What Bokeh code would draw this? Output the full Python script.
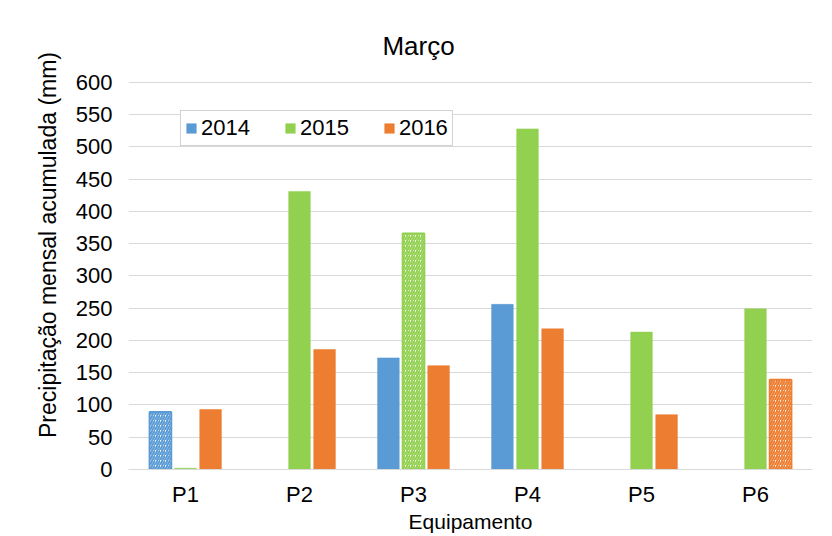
from bokeh.plotting import figure
from bokeh.models import ColumnDataSource, Legend, LegendItem, Label, FactorRange
from bokeh.transform import dodge
from bokeh.embed import file_html
from bokeh.resources import INLINE

categories = ["P1", "P2", "P3", "P4", "P5", "P6"]
years = ["2014", "2015", "2016"]
v2014 = [89, None, 173, 256, None, None]
v2015 = [2, 431, 366, 528, 213, 249]
v2016 = [93, 186, 161, 218, 85, 139]
h2014 = [True, False, False, False, False, False]
h2015 = [False, False, True, False, False, False]
h2016 = [False, False, False, False, False, True]
y_ticks = list(range(0, 601, 50))

colors = {"2014": "#5B9BD5", "2015": "#92D050", "2016": "#ED7D31"}
offsets = {"2014": -0.22, "2015": 0.0, "2016": 0.22}
series = {"2014": (v2014, h2014), "2015": (v2015, h2015), "2016": (v2016, h2016)}

FONT = "Liberation Sans"

# frame spans image y 20..469; the 600 gridline lands at y~82 (extra headroom holds the title)
p = figure(x_range=FactorRange(*categories), y_range=(0, 696),
           width=832, height=536, output_backend="svg", toolbar_location=None,
           min_border_left=128, min_border_right=20, min_border_top=20, min_border_bottom=67)
p.x_range.range_padding = 0
p.outline_line_color = None
p.background_fill_color = "white"
p.border_fill_color = "white"

legend_items = []
for y in years:
    vals, hatched = series[y]
    solid_x = [c for c, v, h in zip(categories, vals, hatched) if v is not None and not h]
    solid_v = [v for c, v, h in zip(categories, vals, hatched) if v is not None and not h]
    hat_x = [c for c, v, h in zip(categories, vals, hatched) if v is not None and h]
    hat_v = [v for c, v, h in zip(categories, vals, hatched) if v is not None and h]
    src_s = ColumnDataSource(dict(x=solid_x, top=solid_v))
    src_h = ColumnDataSource(dict(x=hat_x, top=hat_v))
    r = p.vbar(x=dodge("x", offsets[y], range=p.x_range), top="top", width=0.19, source=src_s,
               fill_color=colors[y], line_color=colors[y], line_width=0.5)
    p.vbar(x=dodge("x", offsets[y], range=p.x_range), top="top", width=0.19, source=src_h,
           fill_color="white", line_color=colors[y], line_width=2,
           hatch_pattern="/", hatch_color=colors[y], hatch_scale=5, hatch_weight=2)
    legend_items.append(LegendItem(label=y, renderers=[r]))

legend = Legend(items=legend_items, orientation="horizontal", location=(52, 323),
                label_text_font=FONT, label_text_font_size="22px", label_text_color="#000000",
                glyph_width=12, glyph_height=12, label_standoff=4, spacing=34,
                padding=4, margin=0, border_line_color="#a6a6a6", border_line_width=1,
                background_fill_alpha=1, label_height=22)
p.add_layout(legend, "center")

# grid
p.xgrid.grid_line_color = None
p.ygrid.grid_line_color = "#d9d9d9"
p.ygrid.grid_line_width = 1
p.yaxis.ticker = y_ticks

# axes
for ax in (p.xaxis[0], p.yaxis[0]):
    ax.major_tick_line_color = None
    ax.minor_tick_line_color = None
    ax.major_label_text_font = FONT
    ax.major_label_text_font_size = "22px"
    ax.major_label_text_color = "#000000"
    ax.axis_label_text_font = FONT
    ax.axis_label_text_font_style = "normal"
    ax.axis_label_text_color = "#000000"

p.yaxis.axis_line_color = None
p.yaxis.major_label_standoff = 10
p.yaxis.axis_label = "Precipitação mensal acumulada (mm)"
p.yaxis.axis_label_standoff = 12
p.yaxis.axis_label_text_font_size = "23px"
p.xaxis.axis_line_color = "#d9d9d9"
p.xaxis.major_label_standoff = 6
p.xaxis.axis_label = "Equipamento"
p.xaxis.axis_label_text_font_size = "21px"
p.xaxis.axis_label_standoff = 0

title = Label(x=2.544, y=657, text="Março",
              text_font=FONT, text_font_size="26px", text_align="center",
              text_baseline="middle", text_color="#000000")
p.add_layout(title)

open("out.html", "w").write(file_html(p, INLINE))
